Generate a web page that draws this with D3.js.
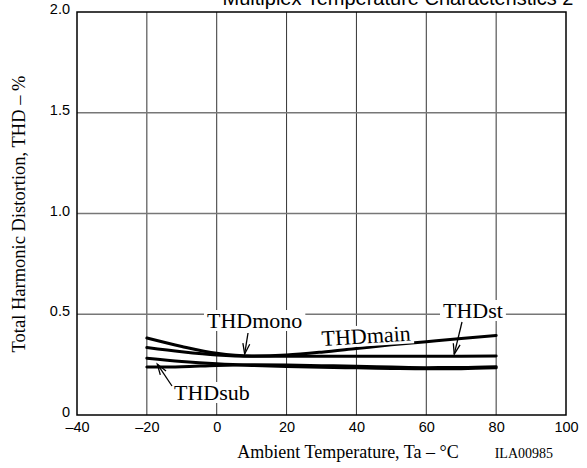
<!DOCTYPE html>
<html>
<head>
<meta charset="utf-8">
<script src="https://cdn.jsdelivr.net/npm/d3@7"></script>
<style>
html,body{margin:0;padding:0;background:#fff;}
svg{display:block;}
</style>
</head>
<body>
<svg id="chart" width="587" height="468"></svg>
<script>
// ---- data ----
const titleText = "Multiplex Temperature Characteristics 2";
const xTicks = [-40, -20, 0, 20, 40, 60, 80, 100];
const yTicks = [0, 0.5, 1.0, 1.5, 2.0];
const yTickLabels = ["0", "0.5", "1.0", "1.5", "2.0"];
const temps = [-20, -10, 0, 10, 20, 30, 40, 50, 60, 70, 80];
const thdMain = [0.382, 0.340, 0.306, 0.293, 0.298, 0.312, 0.330, 0.348, 0.364, 0.380, 0.395];
const thdSt   = [0.335, 0.314, 0.298, 0.292, 0.292, 0.292, 0.292, 0.292, 0.292, 0.292, 0.293];
const thdMono = [0.282, 0.266, 0.254, 0.246, 0.241, 0.237, 0.234, 0.231, 0.229, 0.230, 0.234];
const thdSub  = [0.238, 0.240, 0.246, 0.249, 0.248, 0.245, 0.242, 0.238, 0.235, 0.236, 0.240];
const seriesList = [thdMain, thdSt, thdMono, thdSub];

// ---- layout ----
const svg = d3.select("#chart");
const L = 77, R = 566, T = 12, B = 415;
const x = d3.scaleLinear().domain([-40, 100]).range([L, R]);
const y = d3.scaleLinear().domain([0, 2]).range([B, T]);
const sans = "Liberation Sans, Arial, sans-serif";
const serif = "Liberation Serif, Times New Roman, serif";

// grid
const g = svg.append("g");
g.selectAll("line.vg").data(xTicks.slice(1, -1)).enter().append("line")
  .attr("x1", d => x(d)).attr("x2", d => x(d)).attr("y1", T).attr("y2", B)
  .attr("stroke", "#333").attr("stroke-width", 1);
g.selectAll("line.hg").data(yTicks.slice(1, -1)).enter().append("line")
  .attr("x1", L).attr("x2", R).attr("y1", d => y(d)).attr("y2", d => y(d))
  .attr("stroke", "#777").attr("stroke-width", 1.5);

// axes using d3 axis (labels only)
const xAxis = d3.axisBottom(x).tickValues(xTicks).tickSize(0).tickPadding(7)
  .tickFormat(d => d < 0 ? "\u2013" + Math.abs(d) : String(d));
const xa = svg.append("g").attr("transform", `translate(0,${B})`).call(xAxis);
xa.select(".domain").remove();
xa.selectAll("text").attr("font-family", sans)
  .attr("font-size", 14.5).attr("fill", "#000");

const yAxis = d3.axisLeft(y).tickValues(yTicks).tickSize(0).tickPadding(7)
  .tickFormat((d, i) => yTickLabels[i]);
const ya = svg.append("g").attr("transform", `translate(${L},-3)`).call(yAxis);
ya.select(".domain").remove();
ya.selectAll("text").attr("font-family", sans)
  .attr("font-size", 14.5).attr("fill", "#000");

// curves
const line = d3.line().x((d, i) => x(temps[i])).y(d => y(d)).curve(d3.curveMonotoneX);
svg.selectAll("path.s").data(seriesList).enter().append("path")
  .attr("d", d => line(d)).attr("fill", "none").attr("stroke", "#000")
  .attr("stroke-width", 3).attr("stroke-linecap", "round");

// labels with white background
function label(txt, px, py, rot) {
  const gg = svg.append("g").attr("transform", `translate(${px},${py}) rotate(${rot || 0})`);
  const t = gg.append("text").attr("font-family", serif).attr("font-size", 22).text(txt);
  const bb = t.node().getBBox();
  gg.insert("rect", "text").attr("x", bb.x - 3).attr("y", bb.y + 2).attr("width", bb.width + 6)
    .attr("height", bb.height - 4).attr("fill", "#fff");
  return gg;
}
function arrow(x1, y1, x2, y2) {
  svg.append("line").attr("x1", x1).attr("y1", y1).attr("x2", x2).attr("y2", y2)
    .attr("stroke", "#000").attr("stroke-width", 1.3);
  const a = Math.atan2(y2 - y1, x2 - x1), len = 11, sp = 0.32;
  const p1 = [x2 - len * Math.cos(a - sp), y2 - len * Math.sin(a - sp)];
  const p2 = [x2 - len * Math.cos(a + sp), y2 - len * Math.sin(a + sp)];
  svg.append("path").attr("d", `M${p1[0]},${p1[1]}L${x2},${y2}L${p2[0]},${p2[1]}`)
    .attr("fill", "none").attr("stroke", "#000").attr("stroke-width", 1.3);
}
label("THDmono", 207, 328, 0);
arrow(248, 333, x(8), y(0.293) - 2);
label("THDmain", 322, 346, -3.5);
label("THDst", 443, 318, 0);
arrow(462, 322, x(68), y(0.292) - 2);
label("THDsub", 174, 400, 0);
arrow(172, 386, x(-17), y(0.262) + 2);

// frame
svg.append("rect").attr("x", L).attr("y", T).attr("width", R - L).attr("height", B - T)
  .attr("fill", "none").attr("stroke", "#000").attr("stroke-width", 1.5);

// title
svg.append("text").attr("x", 398).attr("y", 5).attr("text-anchor", "middle")
  .attr("font-family", sans).attr("font-size", 20)
  .text(titleText);

// axis titles
svg.append("text").attr("x", 348).attr("y", 458).attr("text-anchor", "middle")
  .attr("font-family", serif).attr("font-size", 18).text("Ambient Temperature, Ta \u2013 \u00B0C");
svg.append("text").attr("x", 553).attr("y", 458).attr("text-anchor", "end")
  .attr("font-family", serif).attr("font-size", 14).text("ILA00985");
svg.append("text").attr("transform", `translate(25,214) rotate(-90)`).attr("text-anchor", "middle")
  .attr("font-family", serif).attr("font-size", 18.5).text("Total Harmonic Distortion, THD \u2013 %");
</script>
</body>
</html>
